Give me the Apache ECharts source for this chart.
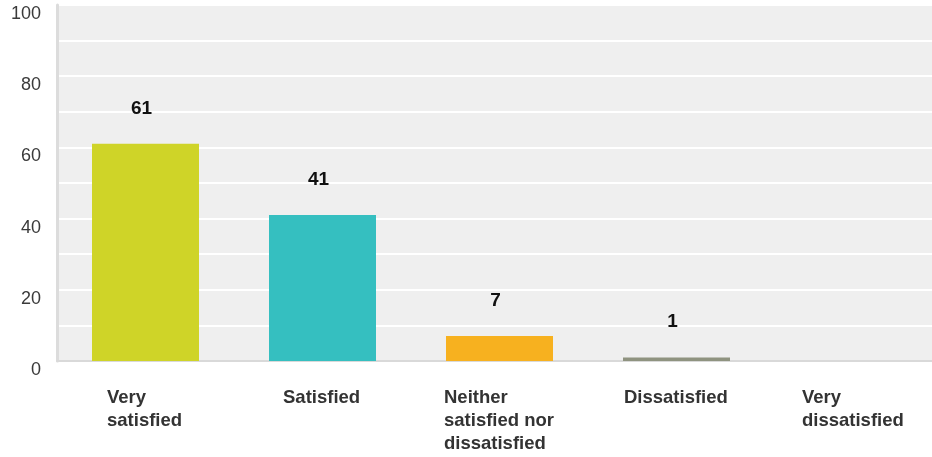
<!DOCTYPE html>
<html><head><meta charset="utf-8">
<script src="https://cdn.jsdelivr.net/npm/echarts@6/dist/echarts.min.js"></script>
<style>html,body{margin:0;padding:0;background:#fff;overflow:hidden;width:932px;height:457px}#c{width:942px;height:457px}</style>
</head><body><div id="c"></div>
<script>
const categories = [["Very","satisfied"],["Satisfied"],["Neither","satisfied nor","dissatisfied"],["Dissatisfied"],["Very","dissatisfied"]];
const values = [61, 41, 7, 1, 0];
const barColors = ["#cfd428", "#35bfc0", "#f7b11f", "#8f9380", "#e0534a"];
const yTicks = [0, 20, 40, 60, 80, 100];

const font = "'Liberation Sans', Arial, sans-serif";
const chart = echarts.init(document.getElementById('c'), null, {renderer:'canvas'});
const ctx = document.createElement('canvas').getContext('2d');
ctx.font = "bold 18.5px " + font;
const rich = {};
categories.forEach((lines, i) => {
  const w = Math.max(...lines.map(l => ctx.measureText(l).width));
  rich['c' + i] = {width: Math.ceil(w) + 1, align: 'left', fontSize: 18.5, fontWeight: 'bold', fontFamily: font, color: '#333', lineHeight: 23};
});
const catNames = categories.map(l => l.join(' '));

chart.setOption({
  animation: false,
  grid: {left: 57, top: 5, right: 0, height: 356, show: true, backgroundColor: '#efefef', borderWidth: 0, containLabel: false},
  xAxis: {
    type: 'category', data: catNames,
    axisLine: {show: true, lineStyle: {color: '#d9d9d9', width: 2}},
    axisTick: {show: false},
    axisLabel: {
      interval: 0, margin: 25, rich: rich,
      formatter: (v, i) => categories[i].map(l => '{c' + i + '|' + l + '}').join('\n')
    }
  },
  yAxis: {
    type: 'value', min: 0, max: 100, interval: 10,
    axisLine: {show: true, lineStyle: {color: '#dcdcdc', width: 3}},
    axisTick: {show: false},
    splitLine: {show: true, lineStyle: {color: '#ffffff', width: 2}},
    axisLabel: {
      margin: 16, fontSize: 18, fontFamily: font, color: '#3a3a3a', verticalAlign: 'top',
      formatter: v => yTicks.includes(v) ? String(v) : ''
    }
  },
  series: [{
    type: 'bar', barWidth: 107,
    data: values.map((v, i) => ({value: v, itemStyle: {color: barColors[i]}})),
    label: {
      show: true, position: 'top', distance: 26, offset: [-4, 0],
      fontSize: 19, fontWeight: 'bold', fontFamily: font, color: '#111',
      formatter: p => p.value > 0 ? String(p.value) : ''
    }
  }]
});
</script></body></html>
